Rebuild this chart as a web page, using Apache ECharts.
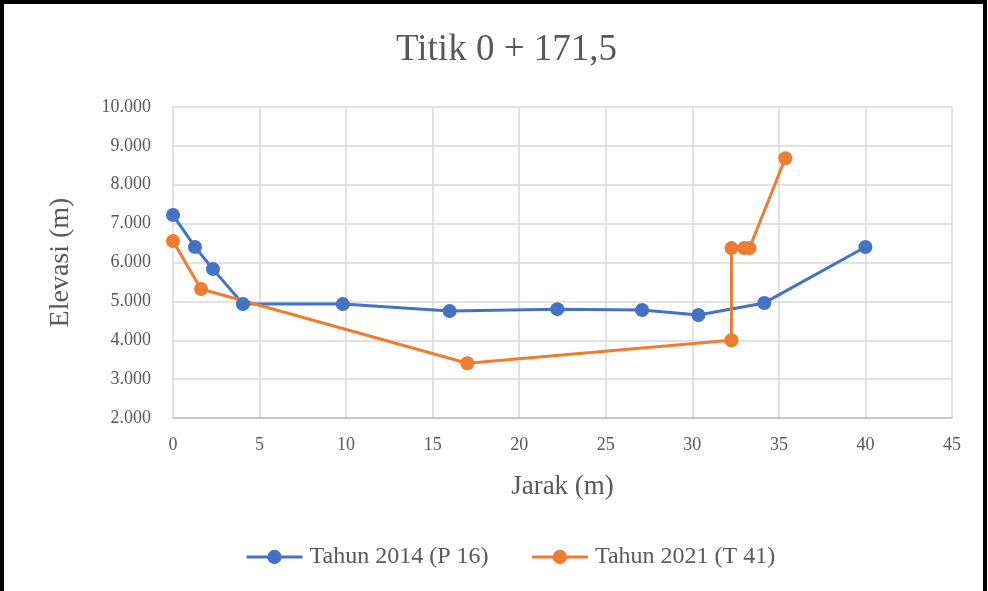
<!DOCTYPE html>
<html>
<head>
<meta charset="utf-8">
<script src="https://cdn.jsdelivr.net/npm/echarts@6/dist/echarts.min.js"></script>
<style>
  html, body { margin: 0; padding: 0; background: #fff; }
  #chart { width: 988px; height: 591px; }
</style>
</head>
<body>
<div id="chart"></div>
<script>
// Tahun 2014 (P 16)
var jarak2014 = [0, 1.27, 2.31, 4.04, 9.81, 15.98, 22.2, 27.1, 30.35, 34.16, 40.0];
var elev2014 = [7.22, 6.40, 5.83, 4.93, 4.93, 4.75, 4.80, 4.78, 4.65, 4.96, 6.40];
// Tahun 2021 (T 41)
var jarak2021 = [0, 1.62, 17.0, 32.26, 32.26, 33.0, 33.3, 35.37];
var elev2021 = [6.55, 5.32, 3.41, 4.00, 6.37, 6.37, 6.37, 8.68];

var seriesNames = ['Tahun 2014 (P 16)', 'Tahun 2021 (T 41)'];
var seriesColors = ['#4472c4', '#ed7d31'];

function pairs(xs, ys) {
  return xs.map(function (x, i) { return [x, ys[i]]; });
}

var font = '"Liberation Serif", "Times New Roman", serif';
var chart = echarts.init(document.getElementById('chart'));

chart.setOption({
  animation: false,
  title: {
    text: 'Titik 0 + 171,5',
    left: 391,
    top: 27,
    textStyle: { fontFamily: font, fontSize: 37, fontWeight: 'normal', color: '#595959' }
  },
  legend: {
    bottom: 17,
    left: 240,
    itemWidth: 56,
    itemHeight: 18,
    itemGap: 42,
    lineStyle: { width: 3 },
    textStyle: { fontFamily: font, fontSize: 24, color: '#595959', padding: [0, 0, 0, 2] },
    data: seriesNames
  },
  grid: { left: 173, right: 36, top: 107, bottom: 173 },
  xAxis: {
    type: 'value',
    min: 0,
    max: 45,
    interval: 5,
    name: 'Jarak (m)',
    nameLocation: 'middle',
    nameGap: 55,
    nameTextStyle: { fontFamily: font, fontSize: 27, color: '#595959' },
    axisLine: { show: true, lineStyle: { color: '#bfbfbf', width: 1.5 } },
    axisTick: { show: false },
    axisLabel: { fontFamily: font, fontSize: 18, color: '#595959', margin: 18 },
    splitLine: { show: true, lineStyle: { color: '#d9d9d9', width: 1.5 } }
  },
  yAxis: {
    type: 'value',
    min: 2,
    max: 10,
    interval: 1,
    name: 'Elevasi (m)',
    nameLocation: 'middle',
    nameGap: 98,
    nameTextStyle: { fontFamily: font, fontSize: 28, color: '#595959' },
    axisLine: { show: false },
    axisTick: { show: false },
    axisLabel: {
      fontFamily: font, fontSize: 18, color: '#595959', margin: 22,
      formatter: function (v) { return v.toFixed(3); }
    },
    splitLine: { show: true, lineStyle: { color: '#d9d9d9', width: 1.5 } }
  },
  series: [
    {
      name: seriesNames[0],
      type: 'line',
      data: pairs(jarak2014, elev2014),
      symbol: 'circle',
      symbolSize: 14,
      color: seriesColors[0],
      lineStyle: { width: 3 }
    },
    {
      name: seriesNames[1],
      type: 'line',
      data: pairs(jarak2021, elev2021),
      symbol: 'circle',
      symbolSize: 14,
      color: seriesColors[1],
      lineStyle: { width: 3 }
    }
  ],
  graphic: [{
    type: 'rect',
    shape: { x: 2, y: 2, width: 983, height: 600 },
    style: { fill: 'none', stroke: '#000', lineWidth: 4 },
    silent: true
  }]
});
</script>
</body>
</html>
